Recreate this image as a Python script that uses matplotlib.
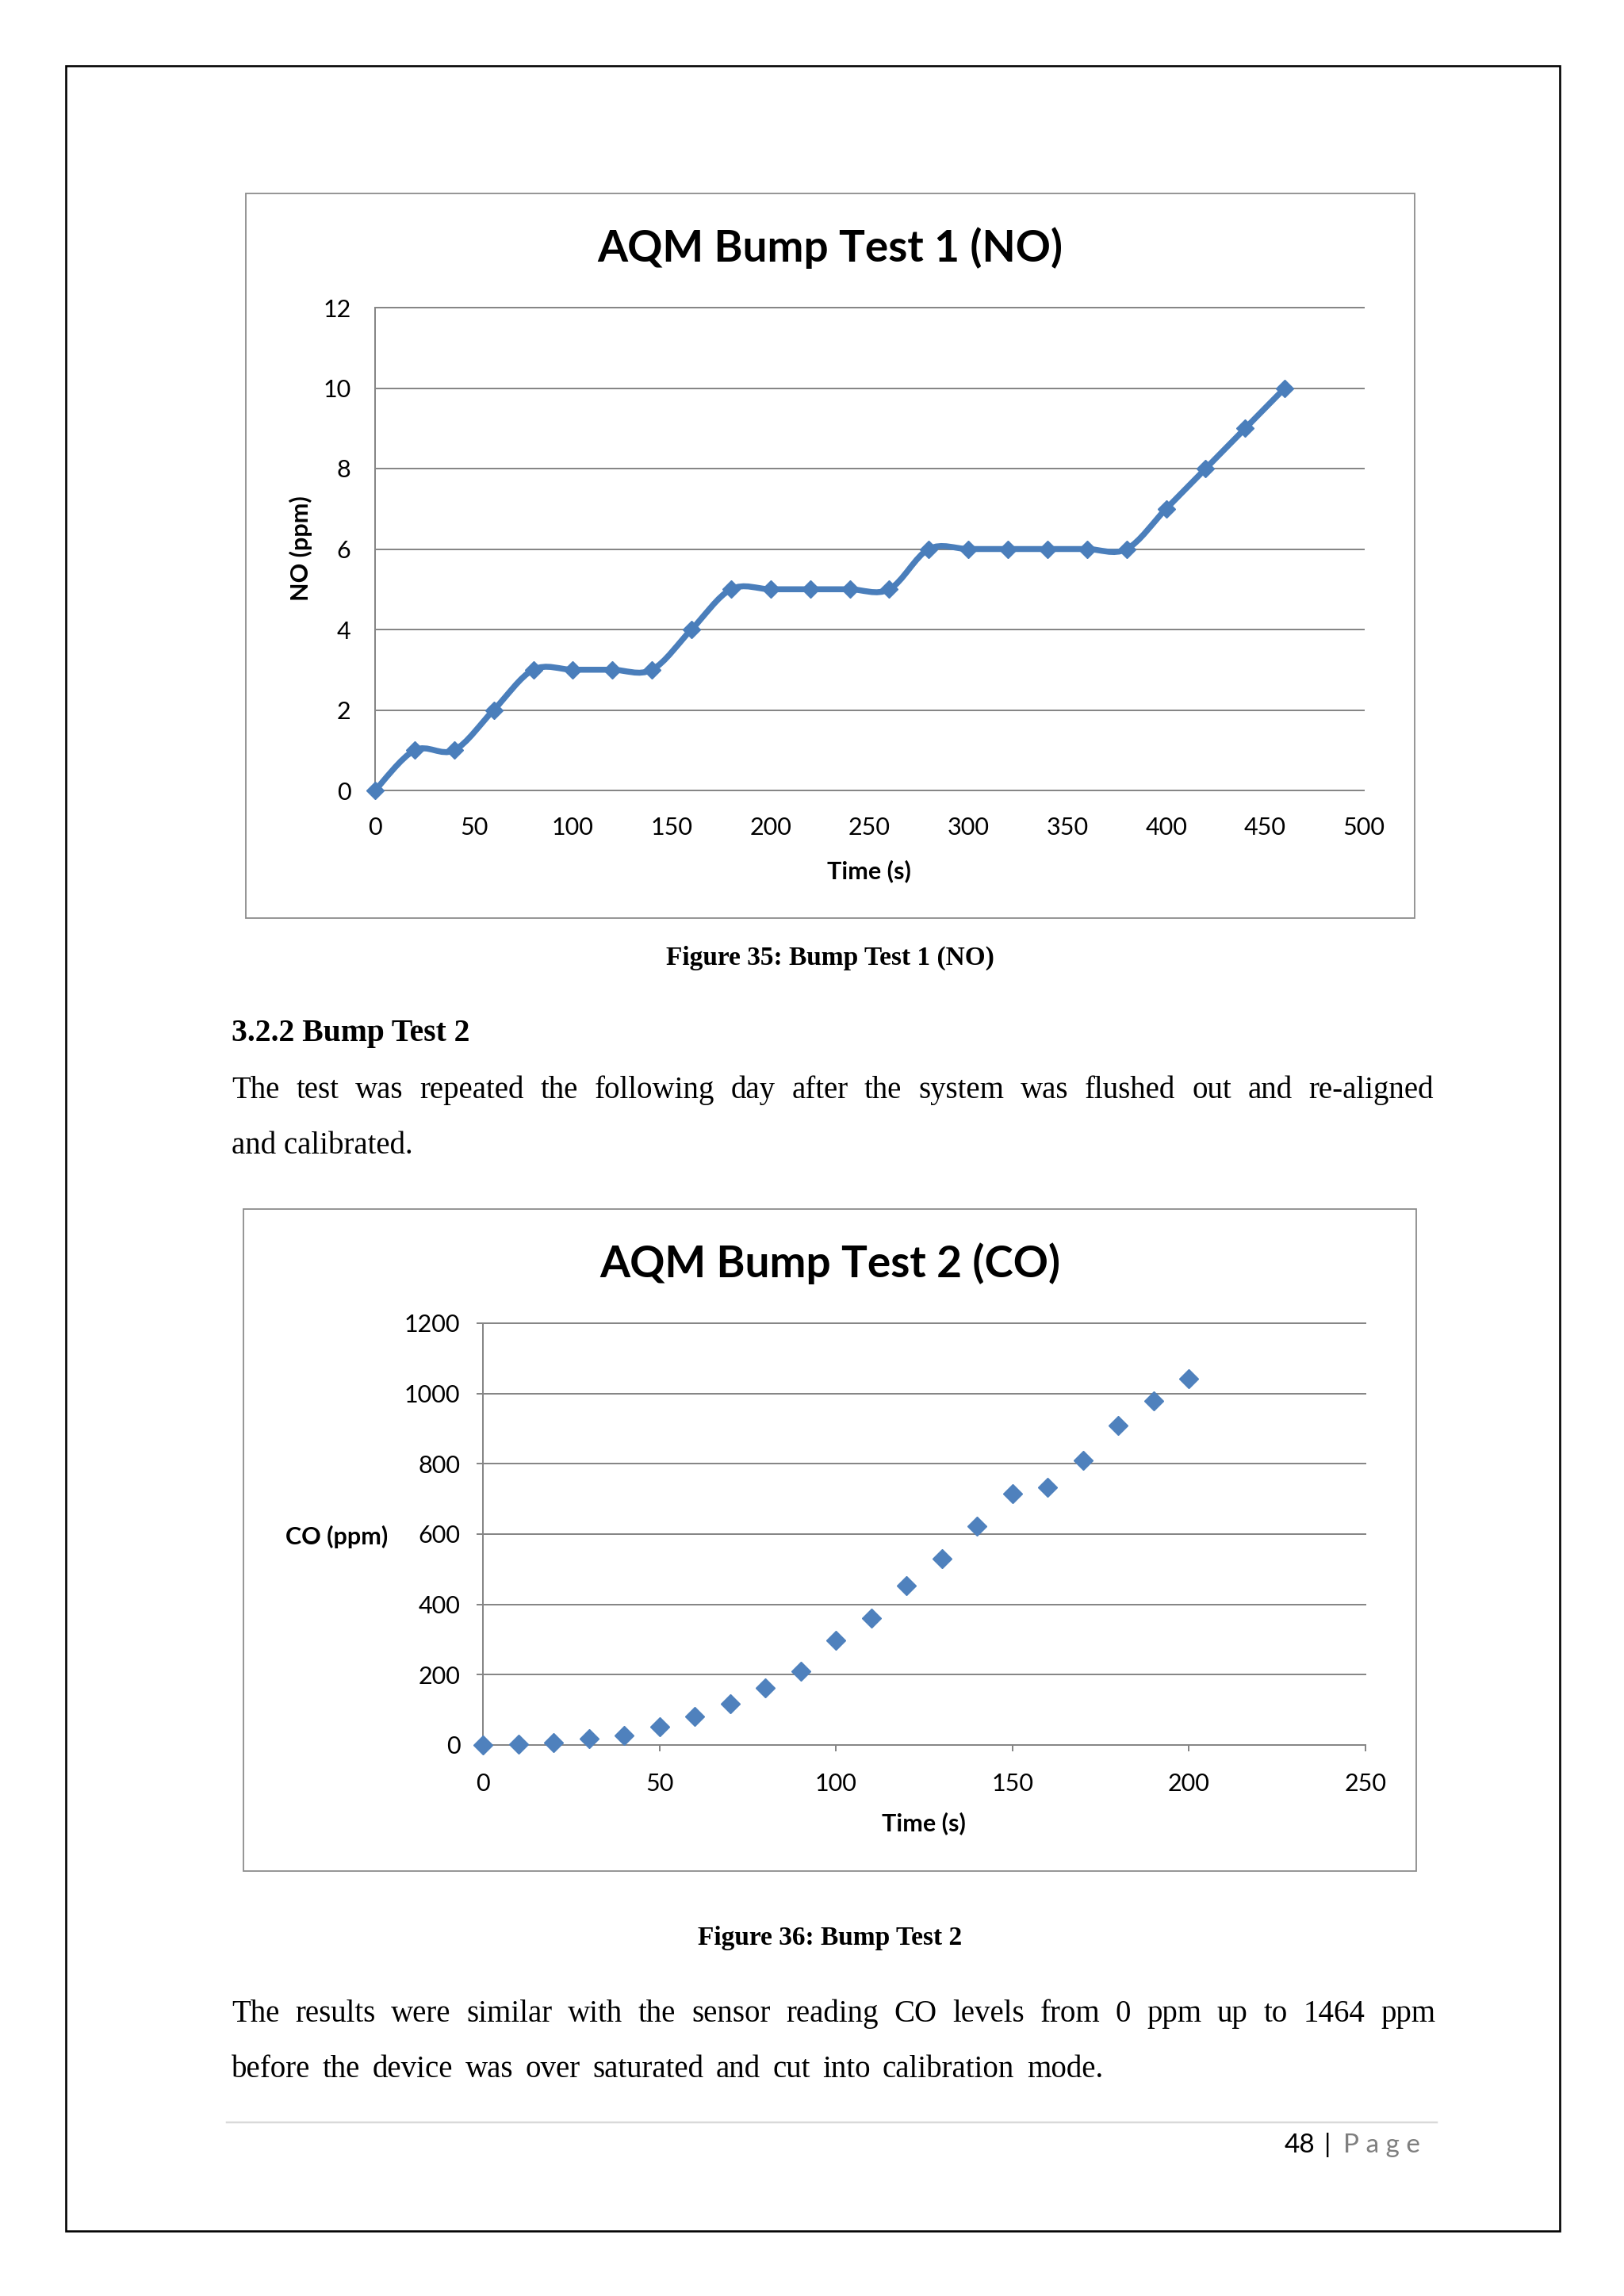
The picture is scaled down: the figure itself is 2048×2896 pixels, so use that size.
import matplotlib
matplotlib.use("Agg")
import matplotlib.pyplot as plt
from matplotlib.path import Path
from matplotlib.patches import PathPatch, Rectangle
from matplotlib.lines import Line2D
import numpy as np

# ---------------- data ----------------
no_time = [0, 20, 40, 60, 80, 100, 120, 140, 160, 180, 200, 220, 240, 260,
           280, 300, 320, 340, 360, 380, 400, 420, 440, 460]
no_ppm = [0, 1, 1, 2, 3, 3, 3, 3, 4, 5, 5, 5, 5, 5, 6, 6, 6, 6, 6, 6, 7, 8, 9, 10]
no_xticks = [0, 50, 100, 150, 200, 250, 300, 350, 400, 450, 500]
no_yticks = [0, 2, 4, 6, 8, 10, 12]

co_time = [0, 10, 20, 30, 40, 50, 60, 70, 80, 90, 100, 110, 120, 130, 140,
           150, 160, 170, 180, 190, 200]
co_ppm = [0, 2, 6, 18, 28, 52, 82, 118, 162, 209, 297, 362, 454, 530, 623,
          716, 734, 810, 908, 978, 1041]
co_xticks = [0, 50, 100, 150, 200, 250]
co_yticks = [0, 200, 400, 600, 800, 1000, 1200]

title1 = "AQM Bump Test 1 (NO)"
title2 = "AQM Bump Test 2 (CO)"
caption1 = "Figure 35: Bump Test 1 (NO)"
caption2 = "Figure 36: Bump Test 2"
heading = "3.2.2 Bump Test 2"
para1 = ["The test was repeated the following day after the system was flushed out and re-aligned",
         "and calibrated."]
para2 = ["The results were similar with the sensor reading CO levels from 0 ppm up to 1464 ppm",
         "before the device was over saturated and cut into calibration mode."]

# ---------------- layout ----------------
W, H = 2048, 2896
DPI = 100
fig = plt.figure(figsize=(W / DPI, H / DPI), dpi=DPI, facecolor="white")
PX = 72.0 / DPI  # points per pixel

def fx(x):
    return x / W

def fy(y):
    return 1 - y / H

def add_axes_px(l, t, r, b):
    return fig.add_axes([l / W, 1 - b / H, (r - l) / W, (b - t) / H])

def rect_px(l, t, r, b, color, lw):
    fig.patches.append(Rectangle((fx(l), fy(b)), (r - l) / W, (b - t) / H,
                                 transform=fig.transFigure, fill=False,
                                 edgecolor=color, linewidth=lw * PX))

SANS = "Lato"
SERIF = "Liberation Serif"
GRID = "#868686"
BLUE_LINE = "#4A7EBB"
BLUE_MARK = "#4F81BD"

# page border
rect_px(83, 83, 1967, 2814, "black", 2.6)
# chart frames
rect_px(310, 244, 1784, 1158, "#8c8c8c", 1.8)
rect_px(307, 1525, 1786, 2360, "#8c8c8c", 1.8)


def style_axes(ax, yticks, xticks, xpad, ypad, ticklen):
    ax.set_facecolor("none")
    for s in ("top", "right"):
        ax.spines[s].set_visible(False)
    for s in ("left", "bottom"):
        ax.spines[s].set_color(GRID)
        ax.spines[s].set_linewidth(2.0 * PX)
    ax.set_yticks(yticks)
    ax.set_xticks(xticks)
    ax.set_xticklabels([str(v) for v in xticks], fontfamily=SANS, fontsize=22)
    ax.set_yticklabels([str(v) for v in yticks], fontfamily=SANS, fontsize=22)
    ax.tick_params(axis="x", length=ticklen, width=2.0 * PX, color=GRID,
                   pad=xpad, direction="out")
    ax.tick_params(axis="y", length=ticklen, width=2.0 * PX, color=GRID,
                   pad=ypad, direction="out")
    ax.yaxis.grid(True, color=GRID, linewidth=2.0 * PX)
    ax.xaxis.grid(False)
    ax.set_axisbelow(True)
    for gl in ax.get_ygridlines():
        gl.set_clip_on(False)


# ---------------- chart 1 ----------------
ax1 = add_axes_px(473, 388, 1720, 997)
ax1.set_xlim(0, 500)
ax1.set_ylim(0, 12)
style_axes(ax1, no_yticks, no_xticks, xpad=24, ypad=22, ticklen=0)


def smooth_path(xs, ys):
    pts = np.column_stack([xs, ys]).astype(float)
    n = len(pts)
    verts = [pts[0]]
    codes = [Path.MOVETO]
    for i in range(n - 1):
        p0 = pts[i - 1] if i > 0 else pts[i]
        p1 = pts[i]
        p2 = pts[i + 1]
        p3 = pts[i + 2] if i + 2 < n else pts[i + 1]
        c1 = p1 + (p2 - p0) / 6.0
        c2 = p2 - (p3 - p1) / 6.0
        verts += [c1, c2, p2]
        codes += [Path.CURVE4] * 3
    return Path(verts, codes)


ax1.add_patch(PathPatch(smooth_path(no_time, no_ppm), fill=False,
                        edgecolor=BLUE_LINE, linewidth=7.5 * PX,
                        capstyle="round", joinstyle="round", zorder=3,
                        clip_on=False))
ax1.plot(no_time, no_ppm, linestyle="none", marker="D", markersize=11,
         color=BLUE_LINE, zorder=4, clip_on=False)

fig.text(fx(1047), fy(330), title1, ha="center", va="baseline",
         fontfamily=SANS, fontweight="bold", fontsize=39.5)
fig.text(fx(1096), fy(1108), "Time (s)", ha="center", va="baseline",
         fontfamily=SANS, fontweight="bold", fontsize=22)
fig.text(fx(379), fy(692), "NO (ppm)", ha="center", va="center", rotation=90,
         fontfamily=SANS, fontweight="bold", fontsize=22)

# ---------------- chart 2 ----------------
ax2 = add_axes_px(609, 1669, 1722, 2201)
ax2.set_xlim(0, 250)
ax2.set_ylim(0, 1200)
style_axes(ax2, co_yticks, co_xticks, xpad=20, ypad=15, ticklen=5.5)
ax2.plot(co_time, co_ppm, linestyle="none", marker="D", markersize=12,
         color=BLUE_MARK, zorder=4, clip_on=False)

fig.text(fx(1047), fy(1611), title2, ha="center", va="baseline",
         fontfamily=SANS, fontweight="bold", fontsize=39.5)
fig.text(fx(1165), fy(2309), "Time (s)", ha="center", va="baseline",
         fontfamily=SANS, fontweight="bold", fontsize=22)
fig.text(fx(425), fy(1948), "CO (ppm)", ha="center", va="baseline",
         fontfamily=SANS, fontweight="bold", fontsize=22)

# ---------------- document text ----------------
renderer = fig.canvas.get_renderer()


def justified(line, x0, x1, y, **kw):
    words = line.split()
    ts = [fig.text(0, 0, w, va="baseline", ha="left", **kw) for w in words]
    widths = [t.get_window_extent(renderer).width for t in ts]
    gap = (x1 - x0 - sum(widths)) / max(len(words) - 1, 1)
    x = x0
    for t, w in zip(ts, widths):
        t.set_position((fx(x), fy(y)))
        x += w + gap


BODY = dict(fontfamily=SERIF, fontsize=28)

fig.text(fx(1047), fy(1217), caption1, ha="center", va="baseline",
         fontfamily=SERIF, fontweight="bold", fontsize=24)
fig.text(fx(292), fy(1313), heading, ha="left", va="baseline",
         fontfamily=SERIF, fontweight="bold", fontsize=28.5)
justified(para1[0], 292, 1808, 1385, **BODY)
fig.text(fx(292), fy(1455), para1[1], ha="left", va="baseline", **BODY)

fig.text(fx(1047), fy(2453), caption2, ha="center", va="baseline",
         fontfamily=SERIF, fontweight="bold", fontsize=24)
justified(para2[0], 292, 1810, 2550, **BODY)
justified(para2[1], 292, 1391, 2620, **BODY)

# footer
fig.add_artist(Line2D([fx(286), fx(1812)], [fy(2677), fy(2677)],
                      transform=fig.transFigure, color="#d9d9d9",
                      linewidth=2.5 * PX))
fig.text(fx(1620), fy(2715), "48", ha="left", va="baseline",
         fontfamily=SANS, fontsize=24, color="black")
fig.text(fx(1670), fy(2715), "|", ha="left", va="baseline",
         fontfamily=SANS, fontsize=24, color="black")
fig.text(fx(1694), fy(2715), "P a g e", ha="left", va="baseline",
         fontfamily=SANS, fontsize=24, color="#7f7f7f")

fig.savefig("out.png", dpi=DPI, facecolor="white")
